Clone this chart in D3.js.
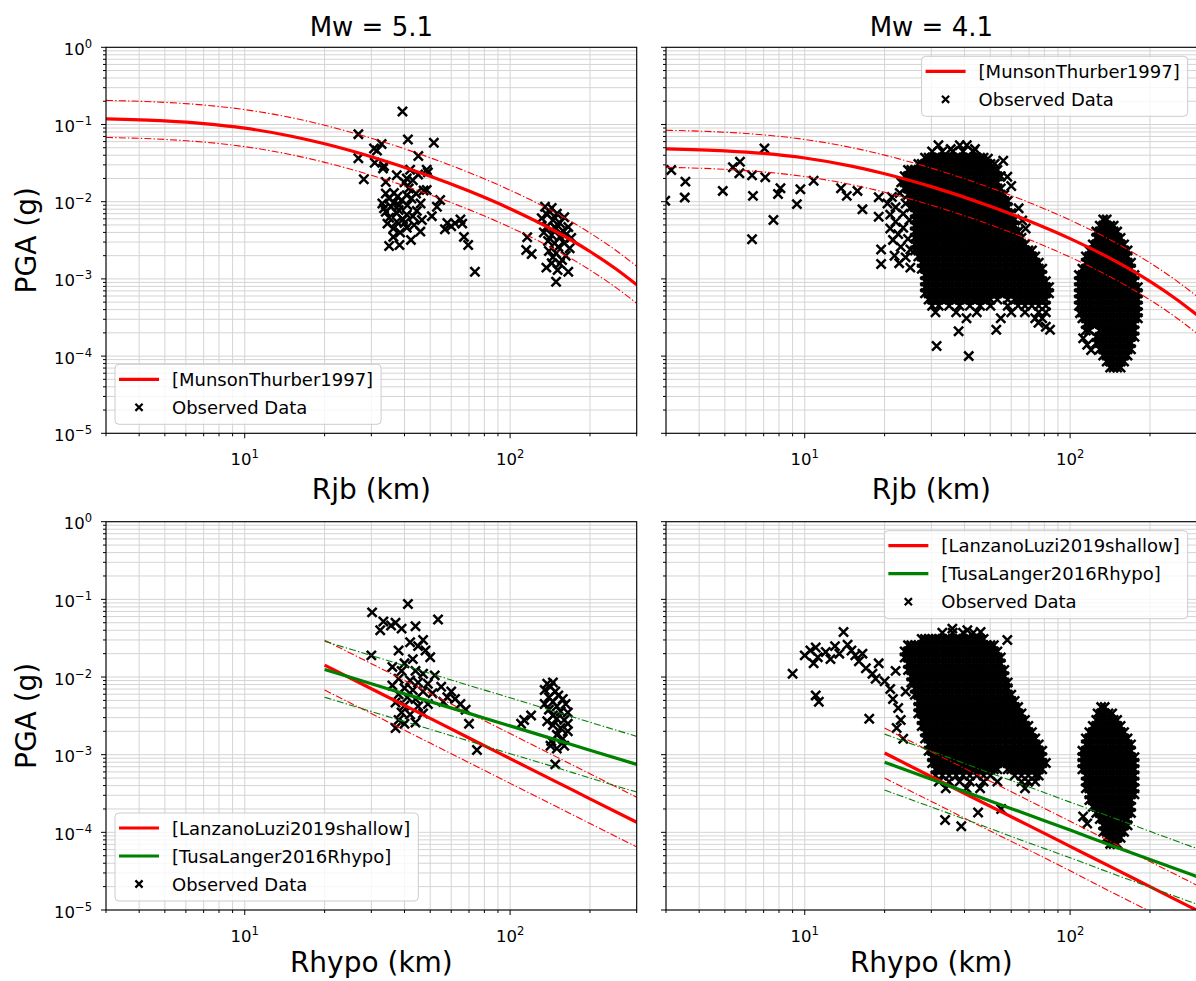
<!DOCTYPE html>
<html>
<head>
<meta charset="utf-8">
<script src="https://cdn.jsdelivr.net/npm/d3@7"></script>
<style>
  body { margin: 0; background: #fff; }
  text { font-family: "DejaVu Sans", sans-serif; fill: #000; }
</style>
</head>
<body>
<svg id="chart" width="1196" height="981"></svg>
<script>
const WIDTH = 1196;
const HEIGHT = 981;

// panel boxes (pixels)
const PANELS = {
  tl: { left: 106, right: 636.7, top: 47.3, bottom: 433.3, labelOff: 66 },
  tr: { left: 666, right: 1196.7, top: 47.3, bottom: 433.3, labelOff: 66 },
  bl: { left: 106, right: 636.7, top: 521.7, bottom: 910, labelOff: 62 },
  br: { left: 666, right: 1196.7, top: 521.7, bottom: 910, labelOff: 62 }
};

const RED = "#ff0000";
const GREEN = "#008000";

// ---- data ----
const titles = ["Mw = 5.1", "Mw = 4.1"];
const xLabels = ["Rjb (km)", "Rhypo (km)"];
const yLabel = "PGA (g)";
const xMajor = [10, 100];
const yMajor = [1, 1e-1, 1e-2, 1e-3, 1e-4, 1e-5];

const legendTop = ["[MunsonThurber1997]", "Observed Data"];
const legendBottom = ["[LanzanoLuzi2019shallow]", "[TusaLanger2016Rhypo]", "Observed Data"];

// Munson & Thurber 1997 (Rjb)
const curveDist = [3, 5, 7, 10, 15, 20, 30, 50, 70, 100, 150, 200, 250, 300];
const munson51 = [0.1181, 0.1113, 0.1029, 0.0897, 0.0705, 0.0562, 0.0382, 0.02132, 0.01372, 0.00811, 0.00405, 0.002265, 0.001351, 0.000839];
const munson51Hi = [0.2053, 0.1934, 0.1788, 0.1559, 0.1225, 0.0977, 0.0664, 0.03706, 0.02385, 0.0141, 0.00704, 0.003937, 0.002348, 0.001458];
const munson51Lo = [0.06796, 0.06404, 0.05921, 0.05161, 0.04057, 0.03234, 0.02198, 0.01227, 0.007895, 0.004667, 0.00233, 0.001303, 0.000777, 0.000483];
const munson41 = [0.04845, 0.04566, 0.04221, 0.0368, 0.02892, 0.02305, 0.01567, 0.008746, 0.005628, 0.003327, 0.001661, 0.000929, 0.000554, 0.000344];
const munson41Hi = [0.0842, 0.0794, 0.0734, 0.064, 0.0503, 0.0401, 0.0272, 0.0152, 0.00978, 0.00578, 0.002887, 0.001615, 0.000963, 0.000598];
const munson41Lo = [0.02788, 0.02627, 0.02429, 0.02117, 0.01664, 0.01326, 0.009017, 0.005032, 0.003238, 0.001914, 0.000956, 0.000535, 0.000319, 0.000198];

// Lanzano & Luzi 2019 shallow, Tusa & Langer 2016 (Rhypo)
const hypoDist = [20, 30, 50, 70, 100, 150, 200, 300];
const lanzano51 = [0.0142, 0.00707, 0.00293, 0.00164, 0.00089, 0.000444, 0.00027, 0.000135];
const lanzano51Hi = [0.0298, 0.01485, 0.00615, 0.00344, 0.00187, 0.00093, 0.000567, 0.000284];
const lanzano51Lo = [0.0068, 0.00339, 0.00141, 0.00079, 0.000427, 0.000213, 0.00013, 0.000065];
const tusa51 = [0.0125, 0.0082, 0.00482, 0.0034, 0.00235, 0.00154, 0.00114, 0.00075];
const tusa51Hi = [0.0288, 0.0189, 0.0111, 0.0078, 0.0054, 0.00354, 0.00262, 0.00172];
const tusa51Lo = [0.0055, 0.0036, 0.00212, 0.0015, 0.00103, 0.00068, 0.0005, 0.00033];
const lanzano41 = [0.00105, 0.00052, 0.000217, 0.000122, 0.000066, 0.0000328, 0.00002, 0.00000995];
const lanzano41Hi = [0.0022, 0.00109, 0.000456, 0.000256, 0.000139, 0.000069, 0.000042, 0.0000209];
const lanzano41Lo = [0.0005, 0.00025, 0.000104, 0.000059, 0.000032, 0.0000157, 0.0000096, 0.0000048];
const tusa41 = [0.0008, 0.000482, 0.000254, 0.000167, 0.000107, 0.000064, 0.0000448, 0.000027];
const tusa41Hi = [0.00184, 0.00111, 0.00058, 0.000384, 0.000245, 0.000148, 0.000103, 0.000062];
const tusa41Lo = [0.00035, 0.000212, 0.000112, 0.000073, 0.000047, 0.000028, 0.0000197, 0.0000119];

// observed data, [distance km, PGA g]
const obsTL = [
  [39.3,0.147],[26.8,0.075],[41.2,0.064],[51.6,0.058],[32.8,0.056],[30.7,0.049],[31.5,0.046],[45.1,0.039],
  [26.8,0.0365],[33.5,0.029],[33.2,0.027],[30.9,0.032],[42,0.026],[48.5,0.026],[49,0.024],[37.4,0.022],
  [28.1,0.0195],[40.8,0.02],[43,0.019],[34,0.018],[47.2,0.014],[34,0.0128],[37.6,0.0116],[40.8,0.0121],
  [44.2,0.0128],[48.5,0.0142],[54.5,0.0105],[53,0.0086],[33,0.0095],[35.6,0.0086],[38.2,0.009],[41,0.009],
  [34,0.0074],[37.4,0.0071],[40.8,0.0068],[43,0.0065],[46.5,0.0058],[50.7,0.0065],[37.4,0.0055],[40,0.0053],
  [56.8,0.0044],[62,0.00525],[65,0.0059],[66,0.0052],[45.9,0.0041],[36.3,0.0045],[40.8,0.0046],[42.3,0.0032],
  [36.3,0.0035],[35,0.00267],[38.3,0.00275],[67,0.0035],[69.5,0.00275],[73.7,0.00124],
  [35,0.011],[36.5,0.0098],[39,0.0105],[42.5,0.011],[38,0.0078],[35,0.0062],[44.5,0.0076],[39.5,0.0059],
  [33.5,0.0082],[36.5,0.013],[41.5,0.0148],[46,0.0095],[58,0.0053],[60,0.0048],[43.5,0.005],[38.5,0.004],
  [34.5,0.0052],[40,0.0178],[45,0.0225],
  [116,0.00346],[115,0.00237],[120.6,0.0021],[135.4,0.0086],[143.5,0.0083],[140,0.0076],[131.6,0.0061],
  [145,0.0058],[154,0.0053],[165.7,0.0047],[149,0.0045],[143.5,0.0037],[154,0.0035],[160,0.0029],
  [167.7,0.0025],[140,0.0023],[149,0.00215],[157,0.00176],[143.5,0.0016],[154,0.00158],[165.7,0.00124],
  [149,0.00092],[147,0.0047],[160,0.0063],[138,0.0048],[147,0.0029],[138,0.0068],[150,0.007],[158,0.0042],
  [134,0.004],[152,0.0026],[162,0.002],[139,0.0031],[163,0.0038],[170,0.0034],[145,0.0019],[137,0.0014],[151,0.0013]
];

const obsBL = [
  [30.2,0.068],[41.2,0.087],[53.5,0.055],[33.3,0.052],[35.6,0.046],[32.4,0.04],[37,0.05],[39,0.042],
  [44,0.045],[47,0.03],[42,0.028],[45,0.025],[38,0.022],[48,0.022],[30,0.019],[50,0.018],[43,0.017],
  [40,0.015],[36,0.0135],[39,0.012],[44,0.012],[47,0.011],[52,0.0105],[38,0.0095],[42,0.009],[45,0.0085],
  [49,0.0082],[55,0.0075],[36,0.0078],[40,0.0072],[43,0.0068],[47,0.0065],[51,0.0062],[58,0.0055],
  [62,0.0052],[38,0.006],[41,0.0055],[44,0.0052],[37,0.0047],[40,0.0043],[45,0.0042],[49,0.0045],
  [56,0.0048],[39,0.0035],[42,0.0033],[47,0.0034],[38,0.0028],[40,0.0025],[44,0.0026],[37,0.0022],
  [75,0.00115],[65,0.0045],[68,0.0038],[70,0.0025],[60,0.0065],
  [110,0.0025],[113,0.0028],[120,0.0032],[138,0.0082],[145,0.0085],[142,0.0075],[135,0.0068],[148,0.0065],
  [152,0.0058],[140,0.0055],[158,0.0052],[145,0.0048],[135,0.0045],[150,0.0042],[162,0.0045],[140,0.0038],
  [155,0.0036],[165,0.0035],[145,0.0032],[150,0.0029],[160,0.0028],[138,0.0027],[145,0.0024],[155,0.0022],
  [165,0.002],[150,0.0018],[158,0.0016],[143,0.0015],[160,0.0013],[150,0.0012],[165,0.0025],[142,0.0013],[148,0.00075]
];

const obsTRscatter = [
  [2.98,0.0103],[3.14,0.0258],[3.55,0.0182],[3.53,0.0113],[4.91,0.0138],[5.36,0.0279],[5.7,0.033],[5.67,0.0233],
  [6.33,0.022],[6.38,0.0119],[6.33,0.00326],[7.05,0.049],[7.1,0.0207],[7.62,0.0058],[7.93,0.0126],[8.1,0.0149],
  [9.34,0.0093],[9.63,0.0145],[10.8,0.0187],[13.7,0.0149],[14.4,0.0119],[15.8,0.0138],[16.5,0.00796],[19,0.0114],
  [19,0.0064],[19.4,0.0024],[19.4,0.00156],[21.3,0.0115],[21.8,0.002],[22.7,0.0016],[23,0.0026],
  [22,0.0055],[21,0.0045],[22.5,0.0038],[21.5,0.0032],[23.5,0.007],[22,0.0085],[21,0.0068],[20.5,0.0095],
  [22.8,0.013],[24,0.0095],[24.5,0.0033],[25,0.0024],[24,0.0019],[25,0.0014],[23.5,0.0046],[24.8,0.0058],
  [31.9,0.054],[35.5,0.048],[38.4,0.054],[40.8,0.054],[43.8,0.048],[56,0.034],[52,0.031],[49,0.036],
  [60,0.016],[58,0.021],[64,0.0082],[66,0.0057],[68,0.0045],
  [31.4,0.000135],[41.5,0.0001],[38,0.00021],[52.7,0.00022],[81,0.00024],[76,0.00027],[84,0.00022],
  [109,0.00036],[112,0.00017],[116,0.00014],[120,0.00012]
];

// dense clouds: each row is [PGA, distance, distance, ...]
const obsTRrows = [
  [0.0447,30.2,33,36.1,39.5,43.2],
  [0.0372,28.4,29.3,30.2,31.1,32,33,34,35,36.1,37.2,38.3,39.5,40.7,41.9,43.2,44.5,45.8,47.2],
  [0.0309,26.8,27.6,28.4,29.3,30.2,31.1,32,33,34,35,36.1,37.2,38.3,39.5,40.7,41.9,43.2,44.5,45.8,47.2,48.6,50.1],
  [0.0257,24.5,25.2,26,26.8,27.6,28.4,29.3,30.2,31.1,32,33,34,35,36.1,37.2,38.3,39.5,40.7,41.9,43.2,44.5,45.8,47.2,48.6,50.1,51.6,53.2],
  [0.0214,23.8,24.5,25.2,26,26.8,27.6,28.4,29.3,30.2,31.1,32,33,34,35,36.1,37.2,38.3,39.5,40.7,41.9,43.2,44.5,45.8,47.2,48.6,50.1,51.6,53.2,54.8],
  [0.0178,23.1,23.8,24.5,25.2,26,26.8,27.6,28.4,29.3,30.2,31.1,32,33,34,35,36.1,37.2,38.3,39.5,40.7,41.9,43.2,44.5,45.8,47.2,48.6,50.1,51.6,53.2],
  [0.0148,23.8,24.5,25.2,26,26.8,27.6,28.4,29.3,30.2,31.1,32,33,34,35,36.1,37.2,38.3,39.5,40.7,41.9,43.2,44.5,45.8,47.2,48.6,50.1,51.6,53.2,54.8],
  [0.0123,24.5,25.2,26,26.8,27.6,28.4,29.3,30.2,31.1,32,33,34,35,36.1,37.2,38.3,39.5,40.7,41.9,43.2,44.5,45.8,47.2,48.6,50.1,51.6,53.2,54.8,56.5],
  [0.0102,25.2,26,26.8,27.6,28.4,29.3,30.2,31.1,32,33,34,35,36.1,37.2,38.3,39.5,40.7,41.9,43.2,44.5,45.8,47.2,48.6,50.1,51.6,53.2,54.8,56.5,58.2],
  [0.0085,25.2,26,26.8,27.6,28.4,29.3,30.2,31.1,32,33,34,35,36.1,37.2,38.3,39.5,40.7,41.9,43.2,44.5,45.8,47.2,48.6,50.1,51.6,53.2,54.8,56.5,58.2],
  [0.0071,26,26.8,27.6,28.4,29.3,30.2,31.1,32,33,34,35,36.1,37.2,38.3,39.5,40.7,41.9,43.2,44.5,45.8,47.2,48.6,50.1,51.6,53.2,54.8,56.5,58.2,60],
  [0.0059,26,26.8,27.6,28.4,29.3,30.2,31.1,32,33,34,35,36.1,37.2,38.3,39.5,40.7,41.9,43.2,44.5,45.8,47.2,48.6,50.1,51.6,53.2,54.8,56.5,58.2,60,61.8],
  [0.0049,26,26.8,27.6,28.4,29.3,30.2,31.1,32,33,34,35,36.1,37.2,38.3,39.5,40.7,41.9,43.2,44.5,45.8,47.2,48.6,50.1,51.6,53.2,54.8,56.5,58.2,60,61.8],
  [0.0041,26,26.8,27.6,28.4,29.3,30.2,31.1,32,33,34,35,36.1,37.2,38.3,39.5,40.7,41.9,43.2,44.5,45.8,47.2,48.6,50.1,51.6,53.2,54.8,56.5,58.2,60,61.8,63.7],
  [0.0034,26,26.8,27.6,28.4,29.3,30.2,31.1,32,33,34,35,36.1,37.2,38.3,39.5,40.7,41.9,43.2,44.5,45.8,47.2,48.6,50.1,51.6,53.2,54.8,56.5,58.2,60,61.8,63.7,65.6],
  [0.0028,26,26.8,27.6,28.4,29.3,30.2,31.1,32,33,34,35,36.1,37.2,38.3,39.5,40.7,41.9,43.2,44.5,45.8,47.2,48.6,50.1,51.6,53.2,54.8,56.5,58.2,60,61.8,63.7,65.6,67.6],
  [0.00234,26,26.8,27.6,28.4,29.3,30.2,31.1,32,33,34,35,36.1,37.2,38.3,39.5,40.7,41.9,43.2,44.5,45.8,47.2,48.6,50.1,51.6,53.2,54.8,56.5,58.2,60,61.8,63.7,65.6,67.6,69.6,71.8],
  [0.00195,26.8,27.6,28.4,29.3,30.2,31.1,32,33,34,35,36.1,37.2,38.3,39.5,40.7,41.9,43.2,44.5,45.8,47.2,48.6,50.1,51.6,53.2,54.8,56.5,58.2,60,61.8,63.7,65.6,67.6,69.6,71.8,73.9],
  [0.00162,27.6,28.4,29.3,30.2,31.1,32,33,34,35,36.1,37.2,38.3,39.5,40.7,41.9,43.2,44.5,45.8,47.2,48.6,50.1,51.6,53.2,54.8,56.5,58.2,60,61.8,63.7,65.6,67.6,69.6,71.8,73.9,76.2],
  [0.00135,27.6,28.4,29.3,30.2,31.1,32,33,34,35,36.1,37.2,38.3,39.5,40.7,41.9,43.2,44.5,45.8,47.2,48.6,50.1,51.6,53.2,54.8,56.5,58.2,60,61.8,63.7,65.6,67.6,69.6,71.8,73.9,76.2,78.5],
  [0.00112,28.4,29.3,30.2,31.1,32,33,34,35,36.1,37.2,38.3,39.5,40.7,41.9,43.2,44.5,45.8,47.2,48.6,50.1,51.6,53.2,54.8,56.5,58.2,60,61.8,63.7,65.6,67.6,69.6,71.8,73.9,76.2,78.5],
  [0.00093,28.4,29.3,30.2,31.1,32,33,34,35,36.1,37.2,38.3,39.5,40.7,41.9,43.2,44.5,45.8,47.2,48.6,50.1,51.6,53.2,54.8,56.5,58.2,60,61.8,63.7,65.6,67.6,69.6,71.8,73.9,76.2,78.5,81],
  [0.00078,28.4,29.3,30.2,31.1,32,33,34,35,36.1,37.2,38.3,39.5,40.7,41.9,43.2,44.5,45.8,47.2,48.6,50.1,51.6,53.2,54.8,56.5,58.2,60,61.8,63.7,65.6,67.6,69.6,71.8,73.9,76.2,78.5,81,83.3],
  [0.00065,28.4,29.3,30.2,31.1,32,33,34,35,36.1,37.2,38.3,39.5,40.7,41.9,43.2,44.5,45.8,47.2,48.6,50.1,51.6,53.2,54.8,56.5,58.2,60,61.8,63.7,65.6,67.6,69.6,71.8,73.9,76.2,78.5,81,83.3],
  [0.00054,29.3,30.2,31.1,32,33,34,35,36.1,37.2,38.3,39.5,40.7,41.9,43.2,44.5,45.8,47.2,48.6,50.1,53.2,58.2,61.8,63.7,65.6,67.6,69.6,71.8,73.9,76.2,78.5,81],
  [0.00045,30.2,32,35,38.3,41.9,45.8,50.1,58.2,63.7,67.6,71.8,76.2,81],
  [0.00037,31.1,37.2,44.5,60,67.6,76.2,81],
  [0.00031,40.7,54.8,73.9,78.5],
  // far cluster
  [0.0059,133.3,137.4],
  [0.0049,129.4,133.3,137.4,141.6,145.9],
  [0.0041,125.5,129.4,133.3,137.4,141.6,145.9,150.4],
  [0.0034,125.5,129.4,133.3,137.4,141.6,145.9,150.4,155],
  [0.0028,121.8,125.5,129.4,133.3,137.4,141.6,145.9,150.4,155,159.7],
  [0.00234,118.2,121.8,125.5,129.4,133.3,137.4,141.6,145.9,150.4,155,159.7,164.6],
  [0.00195,114.7,118.2,121.8,125.5,129.4,133.3,137.4,141.6,145.9,150.4,155,159.7,164.6],
  [0.00162,114.7,118.2,121.8,125.5,129.4,133.3,137.4,141.6,145.9,150.4,155,159.7,164.6,169.6],
  [0.00135,111.3,114.7,118.2,121.8,125.5,129.4,133.3,137.4,141.6,145.9,150.4,155,159.7,164.6,169.6],
  [0.00112,108,111.3,114.7,118.2,121.8,125.5,129.4,133.3,137.4,141.6,145.9,150.4,155,159.7,164.6,169.6,174.8],
  [0.00093,108,111.3,114.7,118.2,121.8,125.5,129.4,133.3,137.4,141.6,145.9,150.4,155,159.7,164.6,169.6,174.8],
  [0.00078,108,111.3,114.7,118.2,121.8,125.5,129.4,133.3,137.4,141.6,145.9,150.4,155,159.7,164.6,169.6,174.8,180],
  [0.00065,108,111.3,114.7,118.2,121.8,125.5,129.4,133.3,137.4,141.6,145.9,150.4,155,159.7,164.6,169.6,174.8,180],
  [0.00054,108,111.3,114.7,118.2,121.8,125.5,129.4,133.3,137.4,141.6,145.9,150.4,155,159.7,164.6,169.6,174.8,180],
  [0.00045,108,111.3,114.7,118.2,121.8,125.5,129.4,133.3,137.4,141.6,145.9,150.4,155,159.7,164.6,169.6,174.8,180],
  [0.00037,111.3,114.7,118.2,121.8,125.5,129.4,133.3,137.4,141.6,145.9,150.4,155,159.7,164.6,169.6,174.8,180],
  [0.00031,111.3,114.7,118.2,121.8,125.5,129.4,133.3,137.4,141.6,145.9,150.4,155,159.7,164.6,169.6,174.8,180],
  [0.00026,114.7,118.2,121.8,125.5,129.4,133.3,137.4,141.6,145.9,150.4,155,159.7,164.6,169.6,174.8],
  [0.000214,114.7,118.2,129.4,133.3,137.4,141.6,145.9,150.4,155,159.7,164.6,169.6,174.8],
  [0.000178,125.5,129.4,133.3,137.4,141.6,145.9,150.4,155,159.7,164.6,169.6,174.8],
  [0.000148,125.5,129.4,133.3,137.4,141.6,145.9,150.4,155,159.7,164.6,169.6],
  [0.000123,129.4,133.3,137.4,141.6,145.9,150.4,155,159.7,164.6,169.6],
  [0.000102,133.3,137.4,141.6,145.9,150.4,155,159.7,164.6],
  [0.000085,137.4,141.6,145.9,150.4,155,159.7],
  [0.000071,141.6,145.9,150.4,155]
];

const obsBRscatter = [
  [9,0.011],[10,0.019],[10.5,0.022],[11,0.024],[11.2,0.018],[10.8,0.015],[11,0.0058],[11.3,0.0048],
  [12,0.021],[12.5,0.017],[13,0.025],[13.5,0.02],[14,0.038],[14.5,0.026],[15,0.022],[15.5,0.019],
  [16,0.016],[16.5,0.02],[17,0.013],[18,0.011],[18.5,0.0095],[17.5,0.0029],[19,0.015],[20,0.0088],
  [21,0.007],[22,0.012],[21.5,0.0052],[22.5,0.004],[23,0.0028],[22.2,0.0022],[23.5,0.0016],[24,0.0065],
  [33.8,0.000144],[38.9,0.00012],[45,0.00018],[55,0.0002],[36,0.042],[41,0.04],[46,0.038],[58,0.03],
  [112,0.00016],[116,0.00013]
];

const obsBRrows = [
  [0.0372,33,36.1,39.5,43.2],
  [0.0309,27.6,28.4,29.3,30.2,31.1,32,33,34,35,36.1,37.2,38.3,39.5,40.7,41.9,43.2,44.5,45.8,47.2],
  [0.0257,24.5,25.2,26,26.8,27.6,28.4,29.3,30.2,31.1,32,33,34,35,36.1,37.2,38.3,39.5,40.7,41.9,43.2,44.5,45.8,47.2,48.6,50.1,51.6],
  [0.0214,23.8,24.5,25.2,26,26.8,27.6,28.4,29.3,30.2,31.1,32,33,34,35,36.1,37.2,38.3,39.5,40.7,41.9,43.2,44.5,45.8,47.2,48.6,50.1,51.6,53.2],
  [0.0178,23.8,24.5,25.2,26,26.8,27.6,28.4,29.3,30.2,31.1,32,33,34,35,36.1,37.2,38.3,39.5,40.7,41.9,43.2,44.5,45.8,47.2,48.6,50.1,51.6,53.2,54.8],
  [0.0148,24.5,25.2,26,26.8,27.6,28.4,29.3,30.2,31.1,32,33,34,35,36.1,37.2,38.3,39.5,40.7,41.9,43.2,44.5,45.8,47.2,48.6,50.1,51.6,53.2,54.8],
  [0.0123,24.5,25.2,26,26.8,27.6,28.4,29.3,30.2,31.1,32,33,34,35,36.1,37.2,38.3,39.5,40.7,41.9,43.2,44.5,45.8,47.2,48.6,50.1,51.6,53.2,54.8,56.5],
  [0.0102,25.2,26,26.8,27.6,28.4,29.3,30.2,31.1,32,33,34,35,36.1,37.2,38.3,39.5,40.7,41.9,43.2,44.5,45.8,47.2,48.6,50.1,51.6,53.2,54.8,56.5],
  [0.0085,25.2,26,26.8,27.6,28.4,29.3,30.2,31.1,32,33,34,35,36.1,37.2,38.3,39.5,40.7,41.9,43.2,44.5,45.8,47.2,48.6,50.1,51.6,53.2,54.8,56.5,58.2],
  [0.0071,26,26.8,27.6,28.4,29.3,30.2,31.1,32,33,34,35,36.1,37.2,38.3,39.5,40.7,41.9,43.2,44.5,45.8,47.2,48.6,50.1,51.6,53.2,54.8,56.5,58.2],
  [0.0059,26,26.8,27.6,28.4,29.3,30.2,31.1,32,33,34,35,36.1,37.2,38.3,39.5,40.7,41.9,43.2,44.5,45.8,47.2,48.6,50.1,51.6,53.2,54.8,56.5,58.2,60],
  [0.0049,26.8,27.6,28.4,29.3,30.2,31.1,32,33,34,35,36.1,37.2,38.3,39.5,40.7,41.9,43.2,44.5,45.8,47.2,48.6,50.1,51.6,53.2,54.8,56.5,58.2,60,61.8],
  [0.0041,26.8,27.6,28.4,29.3,30.2,31.1,32,33,34,35,36.1,37.2,38.3,39.5,40.7,41.9,43.2,44.5,45.8,47.2,48.6,50.1,51.6,53.2,54.8,56.5,58.2,60,61.8,63.7],
  [0.0034,26.8,27.6,28.4,29.3,30.2,31.1,32,33,34,35,36.1,37.2,38.3,39.5,40.7,41.9,43.2,44.5,45.8,47.2,48.6,50.1,51.6,53.2,54.8,56.5,58.2,60,61.8,63.7,65.6],
  [0.0028,27.6,28.4,29.3,30.2,31.1,32,33,34,35,36.1,37.2,38.3,39.5,40.7,41.9,43.2,44.5,45.8,47.2,48.6,50.1,51.6,53.2,54.8,56.5,58.2,60,61.8,63.7,65.6,67.6],
  [0.00234,27.6,28.4,29.3,30.2,31.1,32,33,34,35,36.1,37.2,38.3,39.5,40.7,41.9,43.2,44.5,45.8,47.2,48.6,50.1,51.6,53.2,54.8,56.5,58.2,60,61.8,63.7,65.6,67.6,69.6],
  [0.00195,28.4,29.3,30.2,31.1,32,33,34,35,36.1,37.2,38.3,39.5,40.7,41.9,43.2,44.5,45.8,47.2,48.6,50.1,51.6,53.2,54.8,56.5,58.2,60,61.8,63.7,65.6,67.6,69.6,71.8],
  [0.00162,28.4,29.3,30.2,31.1,32,33,34,35,36.1,37.2,38.3,39.5,40.7,41.9,43.2,44.5,45.8,47.2,48.6,50.1,51.6,53.2,54.8,56.5,58.2,60,61.8,63.7,65.6,67.6,69.6,71.8,73.9],
  [0.00135,29.3,30.2,31.1,32,33,34,35,36.1,37.2,38.3,39.5,40.7,41.9,43.2,44.5,45.8,47.2,48.6,50.1,51.6,53.2,54.8,56.5,58.2,60,61.8,63.7,65.6,67.6,69.6,71.8,73.9,76.2],
  [0.00112,29.3,30.2,31.1,32,33,34,35,36.1,37.2,38.3,39.5,40.7,41.9,43.2,44.5,45.8,47.2,48.6,50.1,51.6,53.2,54.8,56.5,58.2,60,61.8,63.7,65.6,67.6,69.6,71.8,73.9,76.2,78.5],
  [0.00093,30.2,31.1,32,33,34,35,36.1,37.2,38.3,39.5,40.7,41.9,43.2,44.5,45.8,47.2,48.6,50.1,51.6,53.2,54.8,56.5,58.2,60,61.8,63.7,65.6,67.6,69.6,71.8,73.9,76.2,78.5],
  [0.00078,30.2,31.1,32,33,34,35,36.1,37.2,38.3,39.5,40.7,41.9,43.2,44.5,45.8,47.2,48.6,50.1,51.6,53.2,54.8,56.5,58.2,60,61.8,63.7,65.6,67.6,69.6,71.8,73.9,76.2,78.5,81],
  [0.00065,31.1,32,33,34,35,36.1,37.2,38.3,39.5,40.7,41.9,43.2,44.5,45.8,47.2,48.6,50.1,51.6,53.2,58.2,60,61.8,63.7,65.6,67.6,69.6,71.8,73.9,76.2,78.5],
  [0.00054,31.1,33,35,37.2,39.5,41.9,44.5,47.2,50.1,61.8,65.6,69.6,73.9,76.2],
  [0.00045,32,35,38.3,41.9,47.2,53.2,65.6,69.6,73.9],
  [0.00037,34,40.7,45.8,67.6],
  // far cluster
  [0.0041,131,135],
  [0.0034,127,131,135,139.5,144],
  [0.0028,125.5,129.4,133.3,137.4,141.6,145.9,150.4],
  [0.00234,121.8,125.5,129.4,133.3,137.4,141.6,145.9,150.4,155],
  [0.00195,118.2,121.8,125.5,129.4,133.3,137.4,141.6,145.9,150.4,155,159.7],
  [0.00162,114.7,118.2,121.8,125.5,129.4,133.3,137.4,141.6,145.9,150.4,155,159.7,164.6],
  [0.00135,114.7,118.2,121.8,125.5,129.4,133.3,137.4,141.6,145.9,150.4,155,159.7,164.6,169.6],
  [0.00112,111.3,114.7,118.2,121.8,125.5,129.4,133.3,137.4,141.6,145.9,150.4,155,159.7,164.6,169.6],
  [0.00093,111.3,114.7,118.2,121.8,125.5,129.4,133.3,137.4,141.6,145.9,150.4,155,159.7,164.6,169.6,174.8],
  [0.00078,111.3,114.7,118.2,121.8,125.5,129.4,133.3,137.4,141.6,145.9,150.4,155,159.7,164.6,169.6,174.8],
  [0.00065,111.3,114.7,118.2,121.8,125.5,129.4,133.3,137.4,141.6,145.9,150.4,155,159.7,164.6,169.6,174.8],
  [0.00054,114.7,118.2,121.8,125.5,129.4,133.3,137.4,141.6,145.9,150.4,155,159.7,164.6,169.6,174.8],
  [0.00045,114.7,118.2,121.8,125.5,129.4,133.3,137.4,141.6,145.9,150.4,155,159.7,164.6,169.6,174.8],
  [0.00037,114.7,118.2,121.8,125.5,129.4,133.3,137.4,141.6,145.9,150.4,155,159.7,164.6,169.6,174.8],
  [0.00031,118.2,121.8,125.5,129.4,133.3,137.4,141.6,145.9,150.4,155,159.7,164.6,169.6,174.8],
  [0.00026,118.2,121.8,125.5,129.4,133.3,137.4,141.6,145.9,150.4,155,159.7,164.6,169.6],
  [0.000214,121.8,125.5,129.4,133.3,137.4,141.6,145.9,150.4,155,159.7,164.6,169.6],
  [0.000178,125.5,129.4,133.3,137.4,141.6,145.9,150.4,155,159.7,164.6,169.6],
  [0.000148,129.4,133.3,137.4,141.6,145.9,150.4,155,159.7,164.6],
  [0.000123,133.3,137.4,141.6,145.9,150.4,155,159.7,164.6],
  [0.000102,133.3,137.4,141.6,145.9,150.4,155,159.7],
  [0.000085,137.4,141.6,145.9,150.4,155],
  [0.000071,141.6,145.9,150.4]
];

// ---- helpers ----
function rowsToPoints(rows) {
  let pts = [];
  for (let row of rows) {
    for (let i = 1; i < row.length; i++) pts.push([row[i], row[0]]);
  }
  return pts;
}

function isMajor(v) {
  let l = Math.log10(v);
  return Math.abs(l - Math.round(l)) < 1e-6;
}

function powLabel(sel, v, size) {
  let e = Math.round(Math.log10(v));
  sel.append("tspan").text("10");
  sel.append("tspan")
    .attr("dy", -7)
    .attr("font-size", size * 0.7)
    .text(e < 0 ? "\u2212" + (-e) : String(e));
}

const crossPath = (h) => `M${-h},${-h}L${h},${h}M${-h},${h}L${h},${-h}`;

function drawPanel(svg, id, p, cfg) {
  const x = d3.scaleLog().domain([3, 300]).range([p.left, p.right]);
  const y = d3.scaleLog().domain([1e-5, 1]).range([p.bottom, p.top]);

  svg.append("clipPath").attr("id", "clip-" + id)
    .append("rect")
    .attr("x", p.left).attr("y", p.top)
    .attr("width", p.right - p.left).attr("height", p.bottom - p.top);

  let g = svg.append("g");

  // grid, major and minor
  let xt = x.ticks();
  let yt = y.ticks();
  g.append("g").selectAll("line").data(xt).join("line")
    .attr("x1", d => x(d)).attr("x2", d => x(d))
    .attr("y1", p.top).attr("y2", p.bottom)
    .attr("stroke", "#d4d4d4").attr("stroke-width", 1);
  g.append("g").selectAll("line").data(yt).join("line")
    .attr("y1", d => y(d)).attr("y2", d => y(d))
    .attr("x1", p.left).attr("x2", p.right)
    .attr("stroke", "#d4d4d4").attr("stroke-width", 1);

  let plot = g.append("g").attr("clip-path", `url(#clip-${id})`);

  // observed data
  plot.append("g").selectAll("path").data(cfg.obs).join("path")
    .attr("transform", d => `translate(${x(d[0])},${y(d[1])})`)
    .attr("d", crossPath(4.6))
    .attr("stroke", "#000").attr("stroke-width", 2.5).attr("fill", "none");

  // model curves
  const line = d3.line().x(d => x(d[0])).y(d => y(d[1])).curve(d3.curveMonotoneX);
  for (let c of cfg.curves) {
    let pts = c.dist.map((r, i) => [r, c.values[i]]);
    plot.append("path").datum(pts)
      .attr("d", line)
      .attr("fill", "none")
      .attr("stroke", c.color)
      .attr("stroke-width", c.dashed ? 1.1 : 3.2)
      .attr("stroke-dasharray", c.dashed ? "7,2.2,1.4,2.2" : null);
  }

  // ticks
  let axes = g.append("g");
  for (let v of xt) {
    let len = isMajor(v) ? 5 : 3;
    axes.append("line").attr("x1", x(v)).attr("x2", x(v))
      .attr("y1", p.bottom).attr("y2", p.bottom + len)
      .attr("stroke", "#000").attr("stroke-width", 1);
  }
  for (let v of yt) {
    let len = isMajor(v) ? 5 : 3;
    axes.append("line").attr("y1", y(v)).attr("y2", y(v))
      .attr("x1", p.left).attr("x2", p.left - len)
      .attr("stroke", "#000").attr("stroke-width", 1);
  }

  g.append("rect")
    .attr("x", p.left).attr("y", p.top)
    .attr("width", p.right - p.left).attr("height", p.bottom - p.top)
    .attr("fill", "none").attr("stroke", "#000").attr("stroke-width", 1.1);

  // tick labels
  for (let v of xMajor) {
    let t = g.append("text")
      .attr("x", x(v)).attr("y", p.bottom + 31.5)
      .attr("text-anchor", "middle").attr("font-size", 16.5);
    powLabel(t, v, 16.5);
  }
  if (cfg.yLabels) {
    for (let v of yMajor) {
      let t = g.append("text")
        .attr("x", p.left - 14).attr("y", y(v) + 7.5)
        .attr("text-anchor", "end").attr("font-size", 16.5);
      powLabel(t, v, 16.5);
    }
    g.append("text")
      .attr("transform", `translate(36,${(p.top + p.bottom) / 2}) rotate(-90)`)
      .attr("text-anchor", "middle").attr("font-size", 28)
      .text(yLabel);
  }

  g.append("text")
    .attr("x", (p.left + p.right) / 2).attr("y", p.bottom + p.labelOff)
    .attr("text-anchor", "middle").attr("font-size", 28)
    .text(cfg.xLabel);

  if (cfg.title) {
    g.append("text")
      .attr("x", (p.left + p.right) / 2).attr("y", 36)
      .attr("text-anchor", "middle").attr("font-size", 26)
      .text(cfg.title);
  }

  drawLegend(g, p, cfg.legend, cfg.legendColors, cfg.legendLoc);
}

function drawLegend(g, p, labels, colors, loc) {
  let n = labels.length;
  let h = 32 + 28 * (n - 1);
  let lg = g.append("g");
  let box = lg.append("rect").attr("rx", 4).attr("ry", 4)
    .attr("fill", "#fff").attr("fill-opacity", 0.8)
    .attr("stroke", "#cccccc").attr("stroke-width", 1);
  let texts = [];
  labels.forEach((lab, i) => {
    let cy = 15 + 28 * i;
    if (colors[i]) {
      lg.append("line").attr("x1", 4).attr("x2", 44).attr("y1", cy).attr("y2", cy)
        .attr("stroke", colors[i]).attr("stroke-width", 3.2);
    } else {
      lg.append("path").attr("transform", `translate(24,${cy})`)
        .attr("d", crossPath(3.6))
        .attr("stroke", "#000").attr("stroke-width", 2.2);
    }
    texts.push(lg.append("text").attr("x", 57).attr("y", cy + 6.5)
      .attr("font-size", 18).attr("fill", "#222").text(lab));
  });
  let tw = d3.max(texts, t => t.node().getComputedTextLength());
  let w = 57 + tw + 8;
  box.attr("width", w).attr("height", h);
  let bx, by;
  if (loc === "lower left") { bx = p.left + 9; by = p.bottom - 9 - h; }
  else { bx = p.right - 9 - w; by = p.top + 9; }
  lg.attr("transform", `translate(${bx},${by})`);
}

function setup() {
  let svg = d3.select("#chart");
  svg.append("rect").attr("width", WIDTH).attr("height", HEIGHT).attr("fill", "#fff");

  const mk = (dist, vals, color, dashed) => ({ dist: dist, values: vals, color: color, dashed: dashed });

  drawPanel(svg, "tl", PANELS.tl, {
    obs: obsTL,
    curves: [mk(curveDist, munson51Hi, RED, true), mk(curveDist, munson51Lo, RED, true), mk(curveDist, munson51, RED, false)],
    yLabels: true, xLabel: xLabels[0], title: titles[0],
    legend: legendTop, legendColors: [RED, null], legendLoc: "lower left"
  });
  drawPanel(svg, "tr", PANELS.tr, {
    obs: obsTRscatter.concat(rowsToPoints(obsTRrows)),
    curves: [mk(curveDist, munson41Hi, RED, true), mk(curveDist, munson41Lo, RED, true), mk(curveDist, munson41, RED, false)],
    yLabels: false, xLabel: xLabels[0], title: titles[1],
    legend: legendTop, legendColors: [RED, null], legendLoc: "upper right"
  });
  drawPanel(svg, "bl", PANELS.bl, {
    obs: obsBL,
    curves: [
      mk(hypoDist, lanzano51Hi, RED, true), mk(hypoDist, lanzano51Lo, RED, true), mk(hypoDist, lanzano51, RED, false),
      mk(hypoDist, tusa51Hi, GREEN, true), mk(hypoDist, tusa51Lo, GREEN, true), mk(hypoDist, tusa51, GREEN, false)
    ],
    yLabels: true, xLabel: xLabels[1], title: null,
    legend: legendBottom, legendColors: [RED, GREEN, null], legendLoc: "lower left"
  });
  drawPanel(svg, "br", PANELS.br, {
    obs: obsBRscatter.concat(rowsToPoints(obsBRrows)),
    curves: [
      mk(hypoDist, lanzano41Hi, RED, true), mk(hypoDist, lanzano41Lo, RED, true), mk(hypoDist, lanzano41, RED, false),
      mk(hypoDist, tusa41Hi, GREEN, true), mk(hypoDist, tusa41Lo, GREEN, true), mk(hypoDist, tusa41, GREEN, false)
    ],
    yLabels: false, xLabel: xLabels[1], title: null,
    legend: legendBottom, legendColors: [RED, GREEN, null], legendLoc: "upper right"
  });
}

setup();
</script>
</body>
</html>
